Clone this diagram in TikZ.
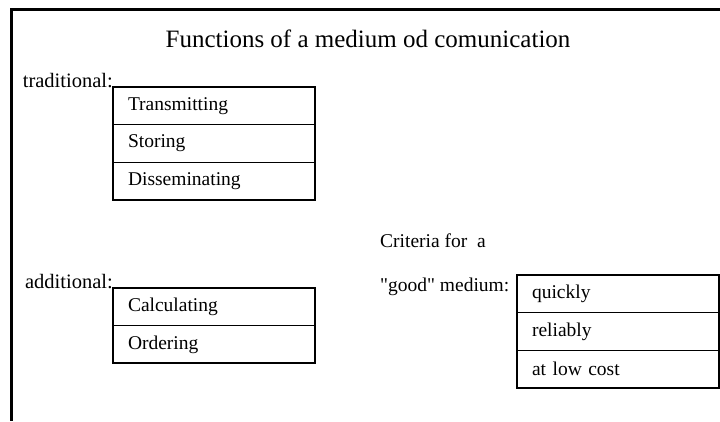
\documentclass[tikz,border=0pt]{standalone}
\usepackage{fontspec}
\setmainfont{Liberation Serif}
\usetikzlibrary{positioning}

\tikzset{
  cell/.style={draw, line width=1pt, outer sep=0pt, inner xsep=15pt, inner ysep=0pt,
    text width=172pt, minimum height=37.7pt, align=left, font=\fontsize{19.5}{22}\selectfont},
  lbl/.style={inner sep=0pt, font=\fontsize{19.5}{22}\selectfont},
  box/.style={line width=2pt},
  frame/.style={line width=2.5pt}
}

\begin{document}
\begin{tikzpicture}[x=1pt, y=1pt, node distance=0pt]
	\useasboundingbox (0,0) rectangle (720,-421);
	\draw[frame] (720,-9.5) -- (11.5,-9.5) -- (11.5,-421);
	\node[lbl, anchor=base, font=\fontsize{25}{30}\selectfont] (title) at (368,-47) {Functions of a medium od comunication};
	\node[cell, anchor=north west] (t1) at (113,-87) {Transmitting};
	\node[cell, below=of t1] (t2) {Storing};
	\node[cell, below=of t2] (t3) {Disseminating};
	\node[lbl, anchor=base east, font=\fontsize{20.5}{22}\selectfont] (trad) at (t1.north west) {traditional:};
	\node[cell, anchor=north west] (a1) at (113,-288) {Calculating};
	\node[cell, below=of a1] (a2) {Ordering};
	\node[lbl, anchor=base east, font=\fontsize{20.5}{22}\selectfont] (add) at (a1.north west) {additional:};
	\node[cell, anchor=north west] (c1) at (517,-275) {quickly};
	\node[cell, below=of c1] (c2) {reliably};
	\node[cell, below=of c2] (c3) {at low cost};
	\node[lbl, anchor=base west] (crit) at (380,-247) {Criteria for\ \ a};
	\node[lbl, anchor=base west] (good) at (380,-291) {\textquotedbl good\textquotedbl\ medium:};
	\foreach \first/\last in {t1/t3, a1/a2, c1/c3}
		\draw[box] (\first.north west) rectangle (\last.south east);
\end{tikzpicture}
\end{document}
